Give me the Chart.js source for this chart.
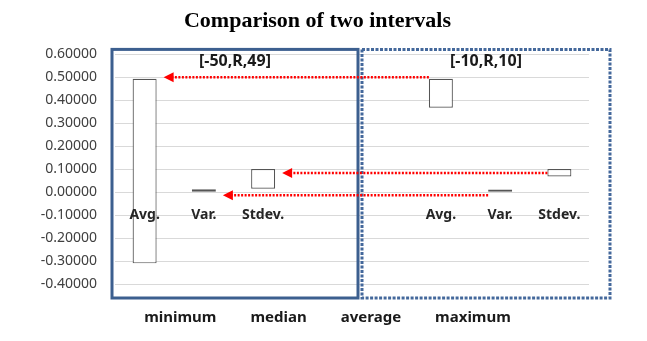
<!DOCTYPE html>
<html>
<head>
<meta charset="utf-8">
<script src="https://cdn.jsdelivr.net/npm/chart.js@4/dist/chart.umd.min.js"></script>
<style>
  html, body { margin: 0; padding: 0; background: #fff; }
  #wrap { width: 647px; height: 341px; }
</style>
</head>
<body>
<div id="wrap"><canvas id="chart"></canvas></div>
<script>
// categories (4th and 5th slots are the gap between the two groups)
var categories = ['Avg.', 'Var.', 'Stdev.', '', '', 'Avg.', 'Var.', 'Stdev.'];
// floating bars: [low, high]
var lows  = [-0.31, 0.000, 0.015, null, null, 0.368, 0.002, 0.068];
var highs = [ 0.494, 0.013, 0.101, null, null, 0.494, 0.012, 0.101];
var legendNames = ['minimum', 'median', 'average', 'maximum'];
var groupTitles = ['[-50,R,49]', '[-10,R,10]'];
// red arrows: from bar in right group to matching bar in left group, at a y value
var arrowFrom = [5, 7, 6];
var arrowTo = [0, 2, 1];
var arrowLevels = [0.5, 0.083, -0.014];
var labelLevel = -0.1;

var ranges = lows.map(function (v, i) { return v === null ? null : [v, highs[i]]; });

var overlay = {
  id: 'overlay',
  afterDatasetsDraw: function (chart) {
    var ctx = chart.ctx;
    var x = chart.scales.x, y = chart.scales.y;
    var area = chart.chartArea;
    var bars = chart.getDatasetMeta(0).data;
    var step = x.getPixelForValue(1) - x.getPixelForValue(0);
    ctx.save();

    // Avg. / Var. / Stdev. labels
    ctx.font = 'bold 14px "Noto Sans", sans-serif';
    ctx.fillStyle = '#262626';
    ctx.textAlign = 'center';
    ctx.textBaseline = 'middle';
    categories.forEach(function (c, i) {
      if (c) ctx.fillText(c, x.getPixelForValue(i), y.getPixelForValue(labelLevel));
    });

    // group boxes
    var mid = x.getPixelForValue(3) + step / 2;
    var top = area.top - 5, bot = area.bottom + 14;
    ctx.strokeStyle = '#3c5f8f';
    ctx.lineWidth = 3;
    ctx.strokeRect(area.left - 3, top, mid + 6 - (area.left - 3), bot - top);
    ctx.strokeStyle = '#44689b';
    ctx.setLineDash([3, 1.5]);
    ctx.strokeRect(mid + 10, top, area.right + 21 - (mid + 10), bot - top);
    ctx.setLineDash([]);

    // group titles
    ctx.font = 'bold 16px "Noto Sans", sans-serif';
    ctx.fillStyle = '#1a1a1a';
    ctx.fillText(groupTitles[0], (area.left - 3 + mid + 6) / 2, top + 12);
    ctx.fillText(groupTitles[1], (mid + 10 + area.right + 21) / 2, top + 12);

    // red dotted arrows
    arrowFrom.forEach(function (f, k) {
      var b1 = bars[f], b2 = bars[arrowTo[k]];
      var sx = b1.x - b1.width / 2;
      var tx = b2.x + b2.width / 2 + 7;
      var py = y.getPixelForValue(arrowLevels[k]);
      ctx.strokeStyle = '#ff0000';
      ctx.lineWidth = 2.5;
      ctx.setLineDash([2, 1.5]);
      ctx.beginPath();
      ctx.moveTo(sx, py);
      ctx.lineTo(tx + 8, py);
      ctx.stroke();
      ctx.setLineDash([]);
      ctx.fillStyle = '#ff0000';
      ctx.beginPath();
      ctx.moveTo(tx, py);
      ctx.lineTo(tx + 10, py - 5);
      ctx.lineTo(tx + 10, py + 5);
      ctx.closePath();
      ctx.fill();
    });

    // legend row (series names, no markers)
    ctx.font = 'bold 15px "Noto Sans", sans-serif';
    ctx.fillStyle = '#1a1a1a';
    ctx.textAlign = 'left';
    var gap = 34;
    var widths = legendNames.map(function (n) { return ctx.measureText(n).width; });
    var total = widths.reduce(function (a, b) { return a + b; }, 0) + gap * (legendNames.length - 1);
    var lx = chart.width / 2 + 4 - total / 2;
    var ly = area.bottom + 34;
    legendNames.forEach(function (n, i) {
      ctx.fillText(n, lx, ly);
      lx += widths[i] + gap;
    });
    ctx.restore();
  }
};

new Chart(document.getElementById('chart'), {
  type: 'bar',
  data: {
    labels: categories,
    datasets: [{
      data: ranges,
      backgroundColor: '#ffffff',
      borderColor: '#555555',
      borderWidth: 1.2,
      borderSkipped: false,
      barPercentage: 0.405,
      categoryPercentage: 1
    }]
  },
  options: {
    responsive: true,
    maintainAspectRatio: false,
    animation: false,
    layout: { padding: { left: 0, right: 12, top: 0, bottom: 49 } },
    plugins: {
      title: {
        display: true,
        text: 'Comparison of two intervals',
        color: '#000',
        font: { family: '"Liberation Serif", serif', size: 22, weight: 'bold' },
        padding: { top: 8, bottom: 20 }
      },
      legend: { display: false },
      tooltip: { enabled: false }
    },
    scales: {
      x: {
        ticks: { display: false },
        grid: { display: false },
        border: { display: false }
      },
      y: {
        min: -0.4,
        max: 0.6,
        afterFit: function (s) { s.width = 115; },
        ticks: {
          stepSize: 0.1,
          padding: 18,
          color: '#404040',
          font: { family: '"Noto Sans", sans-serif', size: 14 },
          callback: function (v) { return v.toFixed(5); }
        },
        grid: { color: '#d9d9d9', drawTicks: false },
        border: { display: false }
      },
      // empty right-hand space so the plot ends where the reference's does
      yRight: {
        position: 'right',
        min: 0,
        max: 1,
        afterFit: function (s) { s.width = 46; },
        ticks: { display: false },
        grid: { display: false },
        border: { display: false }
      }
    }
  },
  plugins: [overlay]
});
</script>
</body>
</html>
